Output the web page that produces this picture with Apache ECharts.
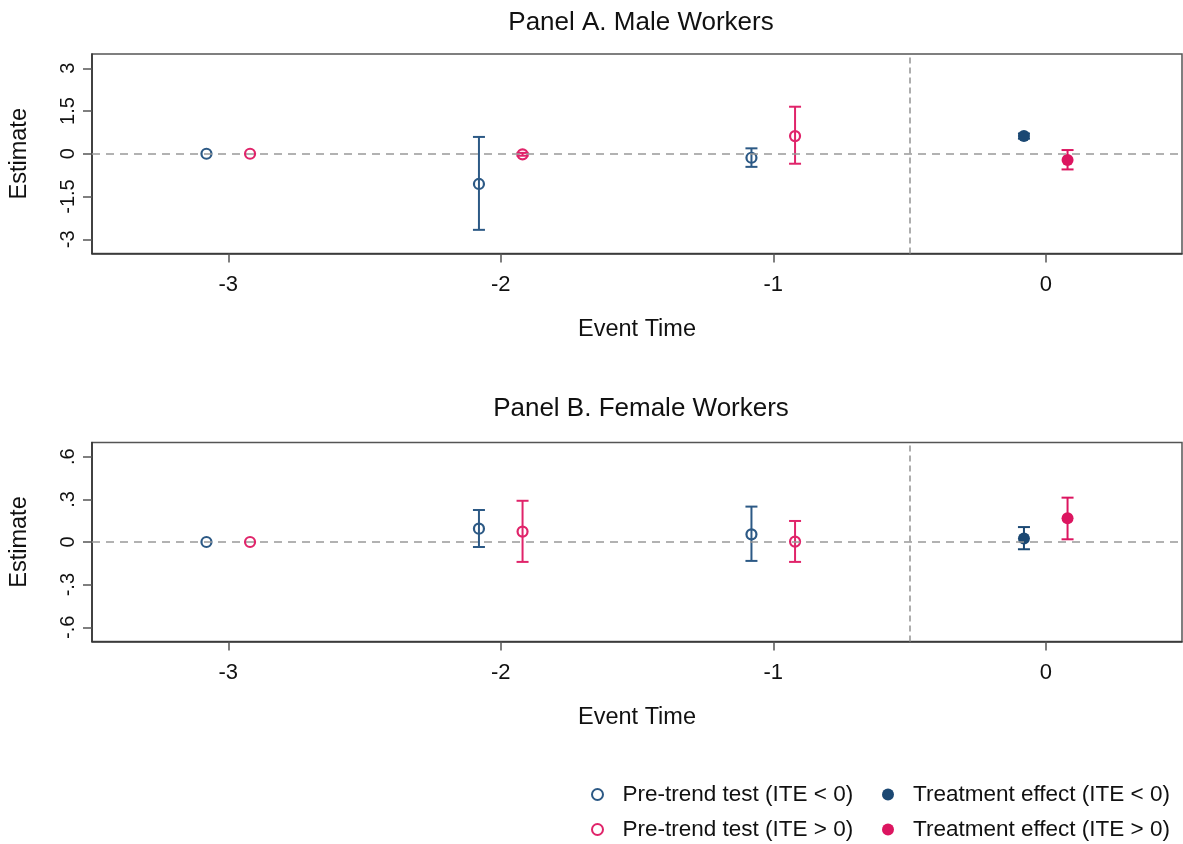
<!DOCTYPE html>
<html>
<head>
<meta charset="utf-8">
<script src="https://cdn.jsdelivr.net/npm/echarts@6/dist/echarts.min.js"></script>
<style>
html,body{margin:0;padding:0;background:#fff;}
#chart{width:1183px;height:844px;}
</style>
</head>
<body>
<div id="chart"></div>
<script>
// ---- data ----
const preTimes = [-3, -2, -1];
const treatTime = [0];
const xTicks = [-3, -2, -1, 0];

const yTicksA = [-3, -1.5, 0, 1.5, 3];
const yLabelsA = ['-3', '-1.5', '0', '1.5', '3'];
const yTicksB = [-0.6, -0.3, 0, 0.3, 0.6];
const yLabelsB = ['-.6', '-.3', '0', '.3', '.6'];

// Panel A: Male workers
const A_preNeg_est = [0, -1.06, -0.14];
const A_preNeg_lo  = [null, -2.67, -0.46];
const A_preNeg_hi  = [null, 0.59, 0.19];
const A_prePos_est = [0, -0.02, 0.62];
const A_prePos_lo  = [null, -0.07, -0.35];
const A_prePos_hi  = [null, 0.03, 1.65];
const A_trNeg_est = [0.62];
const A_trNeg_lo  = [0.53];
const A_trNeg_hi  = [0.71];
const A_trPos_est = [-0.22];
const A_trPos_lo  = [-0.55];
const A_trPos_hi  = [0.13];

// Panel B: Female workers
const B_preNeg_est = [0, 0.094, 0.054];
const B_preNeg_lo  = [null, -0.035, -0.133];
const B_preNeg_hi  = [null, 0.225, 0.249];
const B_prePos_est = [0, 0.073, 0.003];
const B_prePos_lo  = [null, -0.14, -0.14];
const B_prePos_hi  = [null, 0.29, 0.148];
const B_trNeg_est = [0.024];
const B_trNeg_lo  = [-0.051];
const B_trNeg_hi  = [0.105];
const B_trPos_est = [0.167];
const B_trPos_lo  = [0.019];
const B_trPos_hi  = [0.312];

const names = ['Pre-trend test (ITE < 0)', 'Pre-trend test (ITE > 0)',
               'Treatment effect (ITE < 0)', 'Treatment effect (ITE > 0)'];

// ---- style ----
const BLUE = '#2c5985', PINK = '#e0246a', NAVY = '#1b4873', MAG = '#dc1560';
const OFF = 0.08;
const FONT = 'Liberation Sans, Arial, sans-serif';

function pts(times, est, off) { return times.map((t, i) => [t + off, est[i]]); }
function bars(times, lo, hi, off) {
  const out = [];
  times.forEach((t, i) => { if (lo[i] != null) out.push([t + off, lo[i], hi[i]]); });
  return out;
}
function errSeries(idx, data, color, name) {
  return {
    type: 'custom', name: name, xAxisIndex: idx, yAxisIndex: idx, z: 2, silent: true,
    data: data, encode: { x: 0, y: [1, 2] },
    renderItem: function (params, api) {
      const x = api.value(0), lo = api.value(1), hi = api.value(2);
      const pt = api.coord([x, hi]), pb = api.coord([x, lo]);
      const w = 6;
      const st = { stroke: color, lineWidth: 2 };
      return { type: 'group', children: [
        { type: 'line', shape: { x1: pt[0], y1: pt[1], x2: pb[0], y2: pb[1] }, style: st },
        { type: 'line', shape: { x1: pt[0] - w, y1: pt[1], x2: pt[0] + w, y2: pt[1] }, style: st },
        { type: 'line', shape: { x1: pb[0] - w, y1: pb[1], x2: pb[0] + w, y2: pb[1] }, style: st }
      ]};
    }
  };
}
function hollow(idx, data, color, name) {
  return { type: 'scatter', name: name, xAxisIndex: idx, yAxisIndex: idx, z: 3,
    symbol: 'circle', symbolSize: 10, data: data,
    itemStyle: { color: 'rgba(255,255,255,0)', borderColor: color, borderWidth: 2.2, opacity: 1 } };
}
function filled(idx, data, color, name) {
  return { type: 'scatter', name: name, xAxisIndex: idx, yAxisIndex: idx, z: 3,
    symbol: 'circle', symbolSize: 12, data: data,
    itemStyle: { color: color, opacity: 1 } };
}
function refLines(idx) {
  return { type: 'line', xAxisIndex: idx, yAxisIndex: idx, data: [], z: 1, silent: true,
    markLine: { silent: true, symbol: 'none', label: { show: false },
      data: [
        { yAxis: 0, lineStyle: { color: '#999', width: 1.6, type: [8, 6] } },
        { xAxis: -0.5, lineStyle: { color: '#999', width: 1.6, type: [6, 4] } }
      ] } };
}

const panels = [
  { p: [A_preNeg_est, A_preNeg_lo, A_preNeg_hi, A_prePos_est, A_prePos_lo, A_prePos_hi,
        A_trNeg_est, A_trNeg_lo, A_trNeg_hi, A_trPos_est, A_trPos_lo, A_trPos_hi] },
  { p: [B_preNeg_est, B_preNeg_lo, B_preNeg_hi, B_prePos_est, B_prePos_lo, B_prePos_hi,
        B_trNeg_est, B_trNeg_lo, B_trNeg_hi, B_trPos_est, B_trPos_lo, B_trPos_hi] }
];

const series = [];
panels.forEach((pn, idx) => {
  const d = pn.p;
  series.push(hollow(idx, pts(preTimes, d[0], -OFF), BLUE, names[0]));
  series.push(hollow(idx, pts(preTimes, d[3], OFF), PINK, names[1]));
  series.push(filled(idx, pts(treatTime, d[6], -OFF), NAVY, names[2]));
  series.push(filled(idx, pts(treatTime, d[9], OFF), MAG, names[3]));
});
panels.forEach((pn, idx) => {
  const d = pn.p;
  series.push(errSeries(idx, bars(preTimes, d[1], d[2], -OFF), BLUE, names[0]));
  series.push(errSeries(idx, bars(preTimes, d[4], d[5], OFF), PINK, names[1]));
  series.push(errSeries(idx, bars(treatTime, d[7], d[8], -OFF), NAVY, names[2]));
  series.push(errSeries(idx, bars(treatTime, d[10], d[11], OFF), MAG, names[3]));
  series.push(refLines(idx));
});

function xAxis(idx) {
  return { type: 'value', gridIndex: idx, min: -3.5, max: 0.5,
    name: 'Event Time', nameLocation: 'middle', nameGap: 64,
    nameTextStyle: { fontFamily: FONT, fontSize: 23.5, color: '#111' },
    axisLine: { show: true, onZero: false, lineStyle: { color: '#333', width: 1.6 } },
    axisTick: { show: true, inside: false, length: 9, customValues: xTicks, lineStyle: { color: '#555', width: 1.5 } },
    axisLabel: { customValues: xTicks, margin: 20, fontFamily: FONT, fontSize: 22, color: '#111',
      formatter: v => String(v) },
    splitLine: { show: false } };
}
function yAxis(idx, ticks, labels, lim) {
  return { type: 'value', gridIndex: idx, min: -lim, max: lim,
    name: 'Estimate', nameLocation: 'middle', nameGap: 60, nameRotate: 90,
    nameTextStyle: { fontFamily: FONT, fontSize: 23.5, color: '#111' },
    axisLine: { show: true, onZero: false, lineStyle: { color: '#333', width: 1.6 } },
    axisTick: { show: true, inside: false, length: 9, customValues: ticks, lineStyle: { color: '#555', width: 1.5 } },
    axisLabel: { customValues: ticks, rotate: 90, margin: 14, fontFamily: FONT, fontSize: 20, color: '#111',
      formatter: v => { const i = ticks.findIndex(t => Math.abs(t - v) < 1e-9); return i >= 0 ? labels[i] : ''; } },
    splitLine: { show: false } };
}

const legendText = { fontFamily: FONT, fontSize: 22.5, color: '#111' };
function legendItem(name, left, top, size) {
  return { orient: 'horizontal', left: left, top: top, itemWidth: 40, itemHeight: size,
    data: [name], textStyle: legendText, selectedMode: false, padding: 0 };
}
const option = {
  backgroundColor: '#fff',
  animation: false,
  title: [
    { text: 'Panel A. Male Workers', left: 636, top: 5, textAlign: 'center',
      textStyle: { fontFamily: FONT, fontSize: 26, fontWeight: 'normal', color: '#111' } },
    { text: 'Panel B. Female Workers', left: 636, top: 391, textAlign: 'center',
      textStyle: { fontFamily: FONT, fontSize: 26, fontWeight: 'normal', color: '#111' } }
  ],
  grid: [
    { left: 90, top: 54, width: 1092, height: 199.5, show: true, borderColor: '#555', borderWidth: 1.5, backgroundColor: 'transparent' },
    { left: 90, top: 442.5, width: 1092, height: 199, show: true, borderColor: '#555', borderWidth: 1.5, backgroundColor: 'transparent' }
  ],
  xAxis: [xAxis(0), xAxis(1)],
  yAxis: [yAxis(0, yTicksA, yLabelsA, 3.5), yAxis(1, yTicksB, yLabelsB, 0.7)],
  legend: [
    legendItem(names[0], 591, 783, 11),
    legendItem(names[1], 591, 818, 11),
    legendItem(names[2], 882, 783, 12),
    legendItem(names[3], 882, 818, 12)
  ],
  series: series
};
const chart = echarts.init(document.getElementById('chart'), null, { renderer: 'canvas' });
chart.setOption(option);
</script>
</body>
</html>
